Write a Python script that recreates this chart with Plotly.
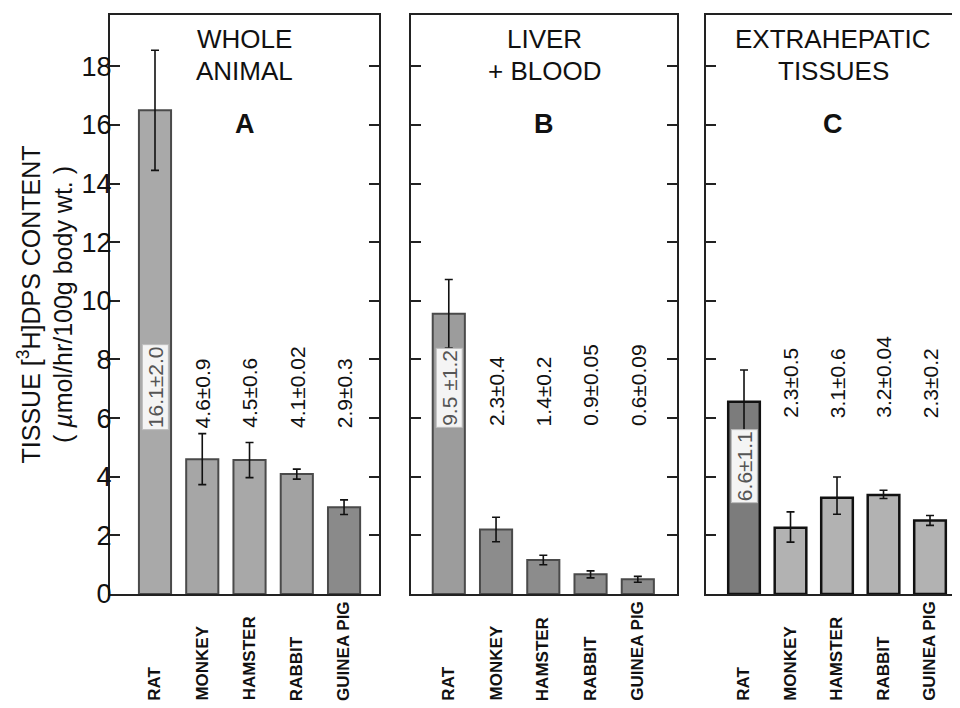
import plotly.graph_objects as go

# ---------------- data ----------------
species = ["RAT", "MONKEY", "HAMSTER", "RABBIT", "GUINEA PIG"]

whole_vals = [16.5, 4.6, 4.57, 4.09, 2.96]
whole_err = [2.05, 0.87, 0.6, 0.17, 0.25]
whole_labels = ["16.1±2.0", "4.6±0.9", "4.5±0.6", "4.1±0.02", "2.9±0.3"]

liver_vals = [9.56, 2.2, 1.16, 0.67, 0.5]
liver_err = [1.17, 0.42, 0.16, 0.12, 0.1]
liver_labels = ["9.5 ±1.2", "2.3±0.4", "1.4±0.2", "0.9±0.05", "0.6±0.09"]

extra_vals = [6.56, 2.26, 3.28, 3.38, 2.51]
extra_err_up = [1.08, 0.54, 0.71, 0.16, 0.17]
extra_err_down = [1.0, 0.49, 0.56, 0.12, 0.17]
extra_labels = ["6.6±1.1", "2.3±0.5", "3.1±0.6", "3.2±0.04", "2.3±0.2"]

panel_title_lines = [["WHOLE", "ANIMAL"], ["LIVER", "+ BLOOD"], ["EXTRAHEPATIC", "TISSUES"]]
panel_letters = ["A", "B", "C"]
y_ticks = [0, 2, 4, 6, 8, 10, 12, 14, 16, 18]

FONT = "Liberation Sans, Arial, Helvetica, sans-serif"
xpos = list(range(len(species)))

fig = go.Figure()

fig.add_trace(go.Bar(
    x=xpos, y=whole_vals, width=0.68, xaxis="x", yaxis="y",
    marker=dict(color=["#a9a9a9", "#a6a6a6", "#a8a8a8", "#a2a2a2", "#8a8a8a"],
                line=dict(color="#4a4a4a", width=2)),
    error_y=dict(type="data", array=whole_err, color="#111", thickness=1.6, width=4),
    showlegend=False))

fig.add_trace(go.Bar(
    x=xpos, y=liver_vals, width=0.68, xaxis="x2", yaxis="y2",
    marker=dict(color=["#9c9c9c", "#8c8c8c", "#8c8c8c", "#8c8c8c", "#8c8c8c"],
                line=dict(color="#4a4a4a", width=2)),
    error_y=dict(type="data", array=liver_err, color="#111", thickness=1.6, width=4),
    showlegend=False))

fig.add_trace(go.Bar(
    x=xpos, y=extra_vals, width=0.68, xaxis="x3", yaxis="y3",
    marker=dict(color=["#7c7c7c", "#b2b2b2", "#b2b2b2", "#b2b2b2", "#b2b2b2"],
                line=dict(color="#111", width=2.5)),
    error_y=dict(type="data", symmetric=False, array=extra_err_up,
                 arrayminus=extra_err_down, color="#111", thickness=1.6, width=4),
    showlegend=False))

ax_line = dict(showline=True, linecolor="#222", linewidth=2)

xdomains = [[0.0, 0.3165], [0.3541, 0.6671], [0.7012, 1.0]]
xranges = [[-0.952, 4.74], [-0.80, 4.83], [-0.817, 4.645]]
yrange = [0, 19.75]

layout = dict(
    width=952, height=700,
    margin=dict(l=102, r=0, t=7, b=114),
    paper_bgcolor="white", plot_bgcolor="white",
    font=dict(family=FONT, color="#111"),
    bargap=0.3,
)
for i in range(3):
    sx = "" if i == 0 else str(i + 1)
    layout["xaxis" + sx] = dict(
        domain=xdomains[i], range=xranges[i], showticklabels=False, ticks="",
        showgrid=False, zeroline=False, mirror=True,
        anchor="y" + sx, fixedrange=True, **ax_line)
    layout["yaxis" + sx] = dict(
        domain=[0, 1], range=yrange, tickvals=y_ticks,
        showticklabels=(i == 0), ticks="inside", ticklen=10, tickwidth=1.6,
        tickcolor="#222", showgrid=False, zeroline=False,
        mirror=("ticks" if i < 2 else False),
        tickfont=dict(size=27, family=FONT, color="#111"),
        ticklabelstandoff=-9,
        anchor="x" + sx, fixedrange=True, **ax_line)
fig.update_layout(**layout)

annotations = []
# y-axis title
annotations.append(dict(
    text="TISSUE [<sup>3</sup>H]DPS CONTENT<br>( <i>µ</i>mol/hr/100g body wt. )",
    xref="paper", yref="paper", x=-0.0765, y=0.5, xanchor="center", yanchor="middle",
    textangle=-90, showarrow=False, font=dict(size=25, family=FONT, color="#111")))

panel_labels = [whole_labels, liver_labels, extra_labels]
label_y = [[5.59] * 5, [5.66] * 5, [3.1, 5.93, 5.93, 5.93, 5.93]]
title_split = 0.931
for i in range(3):
    sx = "" if i == 0 else str(i + 1)
    for k, line in enumerate(panel_title_lines[i]):
        annotations.append(dict(
            text=line, xref="x" + sx + " domain", yref="paper",
            x=0.5, y=title_split, xanchor="center",
            yanchor=("bottom" if k == 0 else "top"), showarrow=False,
            borderpad=0,
            font=dict(size=26, family=FONT, color="#111")))
    annotations.append(dict(
        text="<b>" + panel_letters[i] + "</b>", xref="x" + sx + " domain", yref="paper",
        x=0.5, y=0.812, xanchor="center", yanchor="middle", showarrow=False,
        font=dict(size=27, family=FONT, color="#111")))
    for j, sp in enumerate(species):
        annotations.append(dict(
            text="<b>" + sp + "</b>", xref="x" + sx, yref="paper", x=xpos[j], y=-0.188,
            xanchor="center", yanchor="bottom", textangle=-90, showarrow=False,
            font=dict(size=17, family=FONT, color="#111")))
        inside = (j == 0)
        annotations.append(dict(
            text=panel_labels[i][j], xref="x" + sx, yref="y" + sx,
            x=xpos[j], y=label_y[i][j], xanchor="center", yanchor="bottom",
            textangle=-90, showarrow=False,
            bgcolor=("#f4f4f4" if inside else "rgba(0,0,0,0)"),
            bordercolor=("#bdbdbd" if inside else "rgba(0,0,0,0)"),
            borderwidth=1, borderpad=1,
            font=dict(size=21, family=FONT, color=("#555" if inside else "#111"))))
fig.update_layout(annotations=annotations)

fig.write_html("out.html")
